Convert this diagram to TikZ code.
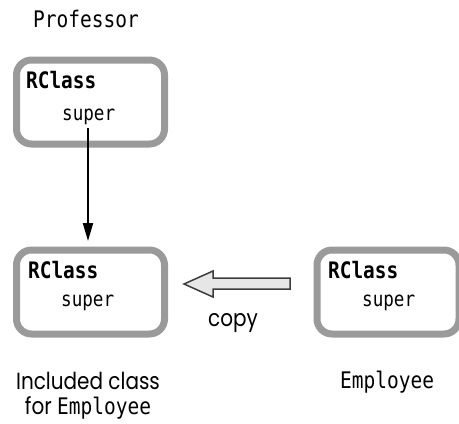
\documentclass[tikz,border=0pt]{standalone}
\usepackage{graphicx}
\usepackage{fontspec}
\setmainfont{Poppins}
\newfontfamily\monof{DejaVu Sans Mono}
\newcommand{\tallt}[1]{\scalebox{1}[1.17]{#1}}
\usetikzlibrary{arrows.meta}
\definecolor{boxgray}{HTML}{9A9A9A}
\definecolor{arrfill}{HTML}{E6E6E6}
\definecolor{arrline}{HTML}{3C3C3C}
\tikzset{
  classbox/.style={draw=boxgray, line width=7pt, rounded corners=15pt, fill=white},
  rclass/.style={anchor=base west, inner sep=0pt, font=\monof\bfseries\fontsize{19.4}{22}\selectfont},
  superlbl/.style={anchor=base west, inner sep=0pt, font=\monof\fontsize{17.6}{20}\selectfont},
  monolbl/.style={inner sep=0pt, font=\monof\fontsize{19.5}{22}\selectfont},
  sanslbl/.style={inner sep=0pt, font=\fontsize{20}{22}\selectfont, align=center},
  ptr/.style={line width=2pt, -{Triangle[length=18pt,width=10pt]}}
}
\begin{document}
\begin{tikzpicture}[x=1pt,y=-1pt]
\useasboundingbox (0,0) rectangle (459,424);
% boxes
\node[classbox, minimum width=148pt, minimum height=84pt, anchor=north west] (b1) at (13,56.5) {};
\node[classbox, minimum width=148pt, minimum height=84pt, anchor=north west] (b2) at (13,246.5) {};
\node[classbox, minimum width=142pt, minimum height=84pt, anchor=north west] (b3) at (313.5,246.5) {};
% texts
\node[monolbl, anchor=base west] (prof) at (33,27) {\tallt{Professor}};
\node[rclass] (r1) at (26,88) {\tallt{RClass}};
\node[superlbl] (s1) at (62,120) {\tallt{super}};
\node[rclass] (r2) at (28,278) {\tallt{RClass}};
\node[superlbl] (s2) at (61,306) {\tallt{super}};
\node[rclass] (r3) at (328,278) {\tallt{RClass}};
\node[superlbl] (s3) at (362,306) {\tallt{super}};
% pointer
\coordinate (p1) at (88,128);
\coordinate (p2) at (88,241);
\draw[ptr] (p1) -- (p2);
% copy arrow
\draw[line width=1.5pt, draw=arrline, fill=arrfill, line join=miter]
  (290,278) -- (213,278) -- (213,271) -- (184,284) -- (213,297) -- (213,289) -- (290,289) -- cycle;
\node[sanslbl, anchor=base] (copy) at (233,326) {\tallt{copy}};
% bottom labels
\node[sanslbl, anchor=base] (inc) at (88,389) {\tallt{Included class}};
\node[sanslbl, anchor=base] (for) at (88,414) {\tallt{for {\monof\fontsize{19.5}{22}\selectfont Employee}}};
\node[monolbl, anchor=base west] (emp) at (340,388) {\tallt{Employee}};
\end{tikzpicture}
\end{document}
